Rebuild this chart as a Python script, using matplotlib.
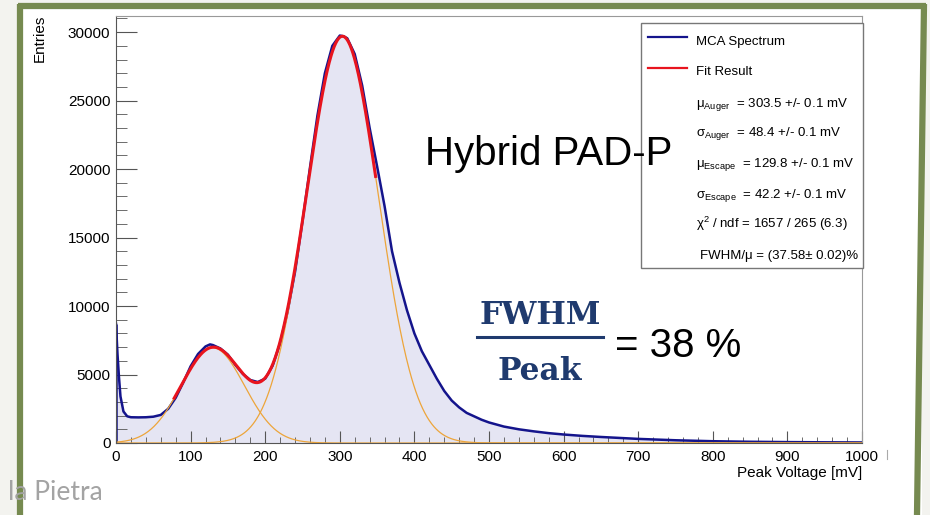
import matplotlib
matplotlib.use("Agg")
import matplotlib.pyplot as plt
from matplotlib.patches import Rectangle
from matplotlib.ticker import MultipleLocator
import numpy as np


# MCA spectrum (peak voltage in mV, entries)
volt = [0, 2, 4, 6, 10, 15, 20, 30, 40, 50, 60, 70, 80, 90, 100, 110, 120, 126,
        130, 140, 150, 160, 170, 180, 190, 200, 210, 220, 230, 240, 250, 260,
        270, 280, 290, 300, 305, 310, 320, 330, 340, 350, 360, 370, 380, 390,
        400, 410, 420, 430, 440, 450, 460, 470, 480, 490, 500, 520, 540, 560,
        580, 600, 625, 650, 675, 700, 750, 800, 850, 900, 950, 1000]
counts = [8700, 6500, 4800, 3400, 2300, 1950, 1880, 1870, 1880, 1920, 2050,
          2500, 3300, 4400, 5600, 6500, 7050, 7200, 7150, 6900, 6450, 5700,
          5050, 4600, 4450, 4700, 5650, 7300, 9600, 12500, 16200, 20100, 23900,
          27000, 29000, 29750, 29700, 29550, 28400, 26100, 23000, 20200, 17300,
          14000, 11700, 9700, 8000, 6700, 5700, 4700, 3800, 3100, 2600, 2200,
          1950, 1700, 1500, 1200, 1000, 850, 720, 620, 520, 440, 370, 300, 200,
          130, 90, 65, 50, 40]

# fit parameters (from the stat box, amplitudes)
mu_auger, sigma_auger, amp_auger = 303.5, 48.4, 29700
mu_escape, sigma_escape, amp_escape = 129.8, 42.2, 6950
fit_lo, fit_hi = 78, 348

stat_lines = [
    "μ$_{\\mathregular{Auger}}$  = 303.5 +/- 0.1 mV",
    "σ$_{\\mathregular{Auger}}$  = 48.4 +/- 0.1 mV",
    "μ$_{\\mathregular{Escape}}$  = 129.8 +/- 0.1 mV",
    "σ$_{\\mathregular{Escape}}$  = 42.2 +/- 0.1 mV",
    "χ$^{\\mathregular{2}}$ / ndf = 1657 / 265 (6.3)",
    "FWHM/μ = (37.58± 0.02)%",
]


def gauss(x, amp, mu, sigma):
    return amp * np.exp(-0.5 * ((x - mu) / sigma) ** 2)


plt.rcParams['font.family'] = ['Liberation Sans', 'DejaVu Sans']
plt.rcParams['mathtext.fontset'] = 'custom'
plt.rcParams['mathtext.rm'] = 'Liberation Sans'

W, H = 930, 515
fig = plt.figure(figsize=(9.3, 5.15), dpi=100)
fig.patch.set_facecolor('#f3f3ef')

# slide background + green frame
bg = fig.add_axes([0, 0, 1, 1], zorder=-2)
bg.set_xlim(0, W)
bg.set_ylim(H, 0)
bg.axis('off')
bg.add_patch(Rectangle((20, 6), 902, 520, facecolor='white', edgecolor='none'))
bg.text(103, 500, "la Pietra", color='#a3a3a3', fontsize=19, ha='right',
        va='baseline', family=['Lato', 'DejaVu Sans'])
green = '#768a50'
bg.plot([20, 20], [4, H], color=green, lw=4.5, solid_capstyle='butt')
bg.plot([18, 926], [6, 6], color=green, lw=4.5, solid_capstyle='butt')
bg.plot([924, 917], [4, H], color=green, lw=4.5, solid_capstyle='butt')

# histogram pad
ax = fig.add_axes([116 / W, 1 - 443 / H, (862 - 116) / W, (443 - 15.7) / H])
ax.set_facecolor('none')
ax.fill_between(volt, counts, color='#e5e5f3', lw=0)
ax.plot(volt, counts, color='#14148c', lw=1.8)
ax.vlines(volt[0], 0, counts[0], color='#14148c', lw=1.8)

x = np.linspace(0, 1000, 1001)
ax.plot(x, gauss(x, amp_escape, mu_escape, sigma_escape), color='#eda53a', lw=0.9)
ax.plot(x, gauss(x, amp_auger, mu_auger, sigma_auger), color='#eda53a', lw=0.9)
xf = np.linspace(fit_lo, fit_hi, 400)
ax.plot(xf, gauss(xf, amp_escape, mu_escape, sigma_escape)
        + gauss(xf, amp_auger, mu_auger, sigma_auger), color='#e8141e', lw=2.2)

ax.set_xlim(0, 1000)
ax.set_ylim(0, 31200)
ax.xaxis.set_major_locator(MultipleLocator(100))
ax.xaxis.set_minor_locator(MultipleLocator(20))
ax.yaxis.set_major_locator(MultipleLocator(5000))
ax.yaxis.set_minor_locator(MultipleLocator(1000))
ax.tick_params(which='both', direction='in', color='#555555', labelsize=11)
ax.tick_params(axis='y', which='major', length=15, pad=4)
ax.tick_params(axis='y', which='minor', length=8)
ax.tick_params(axis='x', which='major', length=9, pad=5)
ax.tick_params(axis='x', which='minor', length=4.5)
for s in ['left', 'bottom']:
    ax.spines[s].set_color('#555555')
for s in ['top', 'right']:
    ax.spines[s].set_color('#999999')
    ax.spines[s].set_linewidth(0.8)

# overlay: axis titles, stat box, slide text
ov = fig.add_axes([0, 0, 1, 1], zorder=5)
ov.set_xlim(0, W)
ov.set_ylim(H, 0)
ov.axis('off')
ov.text(40, 15, "Entries", rotation=90, ha='center', va='top', fontsize=11)
ov.text(862, 473, "Peak Voltage [mV]", ha='right', va='center', fontsize=11)
ov.plot([887, 887], [450, 459], color='#aaaaaa', lw=0.8)

ov.add_patch(Rectangle((641, 22.7), 222, 245.3, facecolor='white',
                       edgecolor='#777777', lw=1))
ov.plot([648, 687], [36.7, 36.7], color='#14148c', lw=1.6)
ov.text(696, 45, "MCA Spectrum", fontsize=9.5, va='baseline')
ov.plot([648, 687], [68.3, 68.3], color='#e8141e', lw=1.6)
ov.text(696, 75, "Fit Result", fontsize=9.5, va='baseline')
for txt, yb in zip(stat_lines, [106.7, 136, 167, 198, 228, 259]):
    xs = 700 if txt.startswith("FWHM") else 696
    ov.text(xs, yb, txt, fontsize=9.5, va='baseline')

ov.text(425, 165, "Hybrid PAD-P", fontsize=29, va='baseline')
navy = '#1f3a6e'
ov.text(540, 324, "FWHM", fontsize=22.5, fontweight='bold', color=navy,
        ha='center', va='baseline', family=['DejaVu Serif'])
ov.plot([477, 603], [337, 337], color=navy, lw=2.2)
ov.text(540, 380, "Peak", fontsize=22.5, fontweight='bold', color=navy,
        ha='center', va='baseline', family=['DejaVu Serif'])
ov.text(615, 357, "= 38 %", fontsize=29, va='baseline')

fig.savefig("out.png", dpi=100)
